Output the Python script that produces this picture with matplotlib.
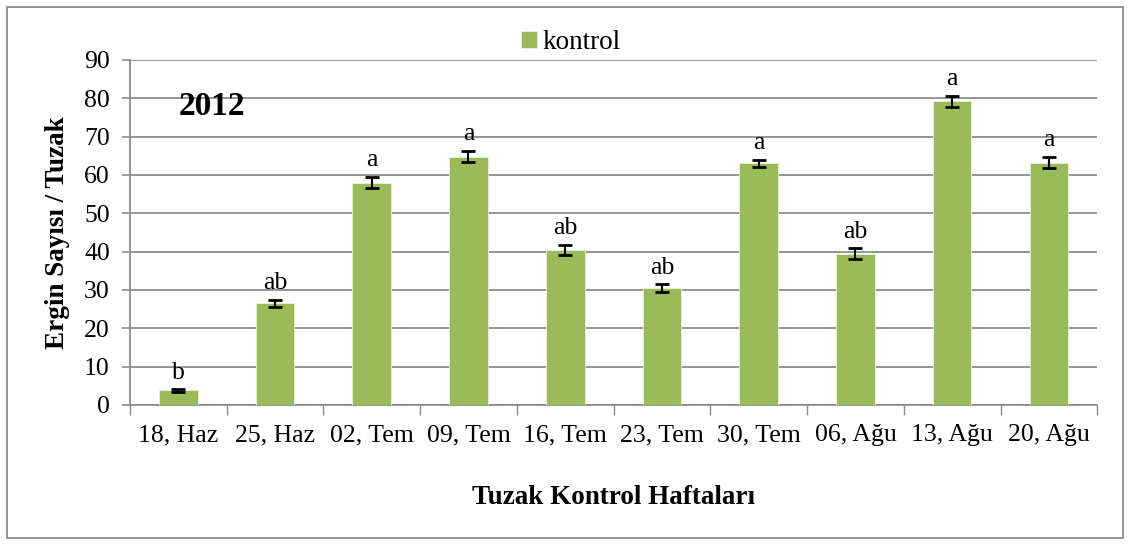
import matplotlib
matplotlib.use("Agg")
import matplotlib.pyplot as plt
from matplotlib.patches import Rectangle
import numpy as np

categories = ["18, Haz", "25, Haz", "02, Tem", "09, Tem", "16, Tem",
              "23, Tem", "30, Tem", "06, Ağu", "13, Ağu", "20, Ağu"]
values = [3.8, 26.5, 58.0, 64.8, 40.5, 30.5, 63.0, 39.5, 79.2, 63.2]
errors = [0.3, 1.0, 1.5, 1.5, 1.3, 1.0, 1.0, 1.4, 1.5, 1.5]
letters = ["b", "ab", "a", "a", "ab", "ab", "a", "ab", "a", "a"]
series_name = "kontrol"
year_label = "2012"
yticks = [0, 10, 20, 30, 40, 50, 60, 70, 80, 90]

plt.rcParams['font.family'] = ['Liberation Serif', 'DejaVu Serif']

fig = plt.figure(figsize=(11.3, 5.45), dpi=100)
ax = fig.add_axes([0.115, 0.257, 0.856, 0.633])

x = np.arange(len(categories))
green = "#9BBB59"
ax.bar(x, values, width=0.4, color=green, edgecolor="#EAF1DD", linewidth=0.6,
       label=series_name, zorder=3)
ax.errorbar(x, values, yerr=errors, fmt="none", ecolor="black", elinewidth=1.5,
            capsize=5, capthick=2, zorder=4)
for xi, v, e, t in zip(x, values, errors, letters):
    ax.annotate(t, (xi, v + e), xytext=(0, 4), textcoords="offset points",
                ha="center", va="bottom", fontsize=18.5)

ax.set_xlim(-0.5, len(categories) - 0.5)
ax.set_ylim(0, 90)
ax.set_yticks(yticks)
ax.yaxis.grid(True, color="#8C8C8C", linewidth=1.3, zorder=0)
ax.set_axisbelow(True)
ax.set_xticks(x)
ax.set_xticklabels(categories, fontsize=18.5)
ax.set_xticks(np.arange(len(categories) + 1) - 0.5, minor=True)
ax.tick_params(axis="x", which="major", length=0, pad=14)
ax.tick_params(axis="x", which="minor", length=7, color="#8C8C8C", width=1)
ax.tick_params(axis="y", length=5.5, color="#8C8C8C", width=1.2, labelsize=18.5, pad=9)
for s in ["top", "right"]:
    ax.spines[s].set_visible(False)
ax.spines["left"].set_color("#8C8C8C")
ax.spines["left"].set_linewidth(1.3)
ax.spines["bottom"].set_color("#8C8C8C")
ax.spines["bottom"].set_linewidth(1.3)

ax.set_ylabel("Ergin Sayısı / Tuzak", fontsize=19.5, fontweight="bold", labelpad=10)
ax.set_xlabel("Tuzak Kontrol Haftaları", fontsize=19.5, fontweight="bold", labelpad=28)
ax.text(0.05, 0.864, year_label, transform=ax.transAxes, fontsize=24,
        fontweight="bold", ha="left", va="center")

leg = ax.legend(loc="center", bbox_to_anchor=(0.456, 1.05), frameon=False,
                fontsize=19.5, handlelength=0.6, handleheight=0.6, handletextpad=0.2,
                borderaxespad=0, borderpad=0)

fig.patches.append(Rectangle((0.006, 0.013), 0.988, 0.975, transform=fig.transFigure,
                             fill=False, edgecolor="#8C8C8C", linewidth=1.3))

fig.savefig("out.png", dpi=100)
